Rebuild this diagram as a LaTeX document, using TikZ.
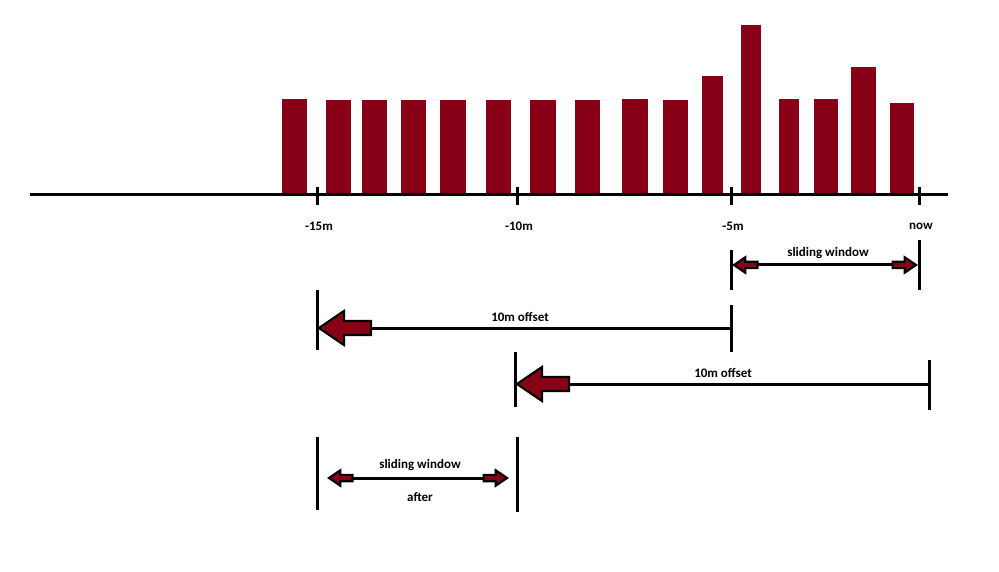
\documentclass[tikz,border=0pt]{standalone}
\usepackage{fontspec}
\setmainfont{Carlito}
\definecolor{bar}{HTML}{880015}
\begin{document}
\begin{tikzpicture}[x=1pt,y=-1pt,
  barbox/.style={fill=bar},
  axis/.style={line width=3pt,black},
  tick/.style={line width=3pt,black},
  lbl/.style={font=\bfseries\fontsize{13}{15}\selectfont},
  blockarrow/.pic={\draw[fill=bar,line width=2.2pt,line join=miter] (0,0)--(25,-17)--(25,-7)--(52,-7)--(52,7)--(25,7)--(25,17)--cycle;}]
\useasboundingbox (0,0) rectangle (999,572);
% bars
\foreach \a/\b/\t in {282/307/99,326/351/100,362/387/100,401/426/100,440/466/100,486/511/100,530/556/100,575/600/100,622/648/99,663/688/100,702/723/76,741/761/25,779/799/99,814/838/99,851/876/67,890/914/103}
  \fill[barbox] (\a,195) rectangle (\b,\t);
% axis
\coordinate (ax0) at (30,195); \coordinate (ax1) at (948,195);
\draw[axis] (ax0) -- (ax1);
\foreach \x/\n in {317/-15m,517/-10m,731/-5m,919/now}{
  \draw[tick] (\x,187) -- (\x,205);
  \node[lbl] at (\x+2,226) {\n};}
% sliding window (top)
\coordinate (sa) at (731,265); \coordinate (sb) at (919,265);
\draw[tick] (731,250) -- (731,290); \draw[tick] (919,240) -- (919,290);
\draw[line width=3pt] ([xshift=10pt]sa) -- ([xshift=-10pt]sb);
\pic[scale=0.45] at ([xshift=3pt]sa) {blockarrow};
\pic[scale=0.45,xscale=-1] at ([xshift=-3pt]sb) {blockarrow};
\node[lbl] at (828,253) {sliding window};
% offset 1
\coordinate (oa) at (731,328); \coordinate (ob) at (319,328);
\draw[tick] (317,290) -- (317,350); \draw[tick] (731,305) -- (731,352);
\draw[line width=3pt] (oa) -- ([xshift=40pt]ob);
\pic at (ob) {blockarrow};
\node[lbl] at (520,317) {10m offset};
% offset 2
\coordinate (pa) at (929,384); \coordinate (pb) at (517,384);
\draw[tick] (515,352) -- (515,407); \draw[tick] (929,360) -- (929,410);
\draw[line width=3pt] (pa) -- ([xshift=40pt]pb);
\pic at (pb) {blockarrow};
\node[lbl] at (723,373) {10m offset};
% bottom sliding window
\coordinate (ta) at (317,478); \coordinate (tb) at (517,478);
\draw[tick] (317,437) -- (317,510); \draw[tick] (517,437) -- (517,512);
\draw[line width=3pt] ([xshift=20pt]ta) -- ([xshift=-20pt]tb);
\pic[scale=0.45] at ([xshift=12pt]ta) {blockarrow};
\pic[scale=0.45,xscale=-1] at ([xshift=-10pt]tb) {blockarrow};
\node[lbl] at (420,465) {sliding window};
\node[lbl] at (420,497) {after};
\end{tikzpicture}
\end{document}
